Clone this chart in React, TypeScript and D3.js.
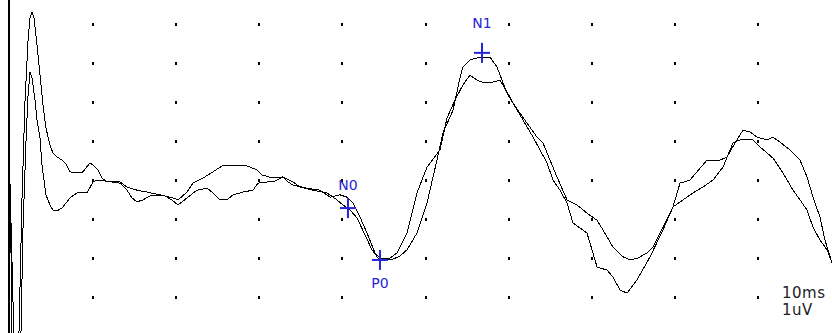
import React, { useEffect, useRef } from 'react';
import * as d3 from 'd3';

const width = 832;
const height = 333;

// time in ms, amplitude in uV (two recorded sweeps)
const timesA = [0, 0.12, 0.24, 0.96, 1.08, 1.44, 1.81, 2.17, 2.41, 2.65, 2.89, 3.25, 3.61, 3.97, 4.33, 4.81, 5.17, 5.66, 6.26, 6.74, 7.22, 7.82, 8.66, 9.15, 9.63, 10.11, 10.59, 11.07, 11.55, 13.24, 14.08, 15.28, 16.49, 18.05, 19.61, 20.22, 21.3, 22.02, 23.23, 24.43, 25.51, 28.52, 29.72, 30.32, 31.65, 32.85, 33.45, 34.06, 35.74, 37.3, 38.51, 39.71, 40.55, 41.28, 42.12, 42.96, 43.92, 44.52, 45.73, 46.57, 47.77, 48.98, 50.18, 51.74, 52.59, 53.55, 54.51, 55.35, 56.2, 56.8, 57.76, 58.96, 59.81, 60.53, 62.21, 63.42, 64.14, 64.98, 65.82, 67.03, 68.23, 69.43, 70.64, 71.36, 72.56, 73.77, 74.61, 75.57, 76.65, 77.38, 78.58, 79.78, 80.99, 82.19, 83.39, 84.6, 85.8, 87.0, 87.85, 89.41, 90.25, 91.82, 93.02, 94.22, 95.07, 95.91, 96.63, 97.47, 98.32, 98.92, 99.88];
const valuesA = [-0.08, -1.79, -5.64, -5.64, -3.92, -0.51, 2.05, 3.59, 4.15, 4.31, 4.15, 3.46, 2.69, 1.92, 1.33, 0.9, 0.69, 0.59, 0.51, 0.41, 0.21, 0.18, 0.18, 0.31, 0.44, 0.36, 0.26, 0.05, -0.03, -0.05, -0.18, -0.26, -0.31, -0.38, -0.46, -0.51, -0.31, -0.08, 0.05, 0.21, 0.36, 0.36, 0.26, 0.13, 0.05, 0.08, -0.05, -0.13, -0.21, -0.26, -0.44, -0.38, -0.44, -0.59, -0.95, -1.36, -1.87, -2.0, -2.0, -1.87, -1.36, -0.33, 0.33, 0.77, 1.59, 2.05, 2.44, 2.69, 2.56, 2.51, 2.49, 2.56, 2.26, 1.97, 1.46, 1.1, 0.95, 0.51, 0.08, -0.51, -0.64, -0.85, -1.03, -1.28, -1.72, -1.97, -2.05, -2.0, -1.87, -1.72, -1.21, -0.69, -0.51, -0.33, -0.18, 0.0, 0.33, 0.95, 1.03, 1.03, 0.85, 0.56, 0.18, -0.26, -0.51, -0.77, -1.21, -1.54, -1.79, -2.13, -2.82];

const timesB = [0, 0.36, 0.48, 1.2, 1.32, 1.56, 1.93, 2.17, 2.41, 2.65, 3.01, 3.25, 3.61, 3.85, 4.33, 4.81, 5.17, 5.66, 6.26, 6.74, 7.22, 8.06, 9.27, 9.99, 10.59, 13.24, 14.08, 14.68, 15.28, 16.0, 16.85, 18.65, 19.49, 20.22, 21.3, 22.5, 23.71, 24.43, 25.27, 26.11, 26.84, 28.04, 29.24, 29.84, 30.93, 31.65, 32.85, 34.06, 34.9, 36.46, 38.15, 39.35, 40.07, 40.91, 41.76, 42.72, 43.56, 44.28, 45.13, 46.09, 46.93, 47.77, 48.98, 50.18, 51.38, 52.11, 53.31, 54.15, 54.51, 55.35, 56.2, 57.4, 57.76, 58.6, 59.21, 59.81, 60.53, 61.73, 62.94, 63.78, 64.62, 65.34, 66.19, 67.03, 67.75, 68.59, 69.43, 70.04, 70.64, 71.84, 72.56, 73.41, 74.25, 75.45, 77.02, 78.58, 79.78, 80.63, 81.83, 83.87, 85.44, 86.28, 87.48, 88.21, 89.05, 89.89, 91.1, 91.82, 92.66, 93.86, 95.07, 95.91, 96.63, 97.47, 98.07, 98.92, 99.88];
const valuesB = [-0.08, -3.08, -5.64, -5.64, -3.92, -1.28, 1.03, 2.18, 2.77, 2.62, 2.05, 1.54, 1.08, 0.38, -0.38, -0.64, -0.77, -0.79, -0.72, -0.59, -0.46, -0.33, -0.33, -0.05, 0.0, -0.08, -0.26, -0.46, -0.56, -0.51, -0.41, -0.41, -0.51, -0.64, -0.46, -0.26, -0.21, -0.33, -0.51, -0.51, -0.38, -0.31, -0.26, -0.08, -0.05, -0.05, 0.08, -0.05, -0.18, -0.26, -0.33, -0.51, -0.64, -0.77, -0.97, -1.41, -1.79, -2.0, -2.05, -2.03, -1.95, -1.79, -1.36, -0.59, 0.51, 1.21, 1.79, 2.62, 2.9, 3.08, 3.13, 3.15, 3.15, 2.9, 2.56, 2.23, 1.97, 1.54, 1.1, 0.77, 0.44, 0.0, -0.26, -0.59, -1.1, -1.23, -1.36, -1.79, -2.23, -2.31, -2.49, -2.82, -2.9, -2.56, -1.97, -1.28, -0.69, -0.08, 0.0, 0.51, 0.51, 0.59, 1.03, 1.28, 1.23, 1.1, 1.03, 1.1, 0.97, 0.77, 0.51, 0.08, -0.44, -0.95, -1.54, -2.13, -2.82];

// peak markers
const markerNames = ['N0', 'P0', 'N1'];
const markerTimes = [40.67, 44.52, 56.8];
const markerValues = [-0.72, -2.05, 3.26];

// grid: one dot per 10 ms / 1 uV
const gridTimes = [10, 20, 30, 40, 50, 60, 70, 80, 90];
const gridValues = [4, 3, 2, 1, 0, -1, -2, -3];

const scaleLabels = ['10ms', '1uV'];

export default function App() {
  const svgRef = useRef<SVGSVGElement>(null);

  useEffect(() => {
    const svg = d3.select(svgRef.current);
    svg.selectAll('*').remove();

    const x = d3.scaleLinear().domain([0, 100]).range([10, 841]);
    const y = d3.scaleLinear().domain([0, 1]).range([180, 141]);

    svg.append('rect').attr('width', width).attr('height', height).attr('fill', '#fff');

    // dotted grid
    gridTimes.forEach(t => {
      gridValues.forEach(v => {
        svg.append('rect')
          .attr('x', Math.round(x(t)) - 1)
          .attr('y', Math.round(y(v)) - 1)
          .attr('width', 2)
          .attr('height', 3)
          .attr('fill', '#000');
      });
    });

    // left axis line
    svg.append('line')
      .attr('x1', x(0) - 1).attr('x2', x(0) - 1)
      .attr('y1', 0).attr('y2', height)
      .attr('stroke', '#000')
      .attr('stroke-width', 2);

    const line = d3.line<[number, number]>()
      .x(d => x(d[0]))
      .y(d => y(d[1]));

    const traces = [
      d3.zip(timesA, valuesA) as [number, number][],
      d3.zip(timesB, valuesB) as [number, number][]
    ];

    svg.selectAll('.trace')
      .data(traces)
      .enter()
      .append('path')
      .attr('class', 'trace')
      .attr('d', d => line(d))
      .attr('fill', 'none')
      .attr('stroke', '#000')
      .attr('stroke-width', 1)
      .attr('shape-rendering', 'crispEdges');

    // markers
    const blue = '#2424d8';
    const labelDy = [-18, 28, -25];
    markerNames.forEach((name, i) => {
      const cx = x(markerTimes[i]);
      const cy = y(markerValues[i]);
      svg.append('line')
        .attr('x1', cx - 8).attr('x2', cx + 8)
        .attr('y1', cy).attr('y2', cy)
        .attr('stroke', blue).attr('stroke-width', 2);
      svg.append('line')
        .attr('x1', cx).attr('x2', cx)
        .attr('y1', cy - 10).attr('y2', cy + 10)
        .attr('stroke', blue).attr('stroke-width', 2);
      svg.append('text')
        .attr('x', cx)
        .attr('y', cy + labelDy[i])
        .attr('text-anchor', 'middle')
        .attr('font-family', 'DejaVu Sans, Verdana, sans-serif')
        .attr('font-size', 14)
        .attr('fill', blue)
        .text(name);
    });

    // scale note
    scaleLabels.forEach((s, i) => {
      svg.append('text')
        .attr('x', 782)
        .attr('y', 298 + i * 17)
        .attr('font-family', 'DejaVu Sans, Verdana, sans-serif')
        .attr('font-size', 15)
        .attr('letter-spacing', 0.5)
        .attr('fill', '#222')
        .text(s);
    });
  }, []);

  return (
    <svg
      ref={svgRef}
      width={width}
      height={height}
      style={{ position: 'absolute', left: 0, top: 0 }}
    />
  );
}
